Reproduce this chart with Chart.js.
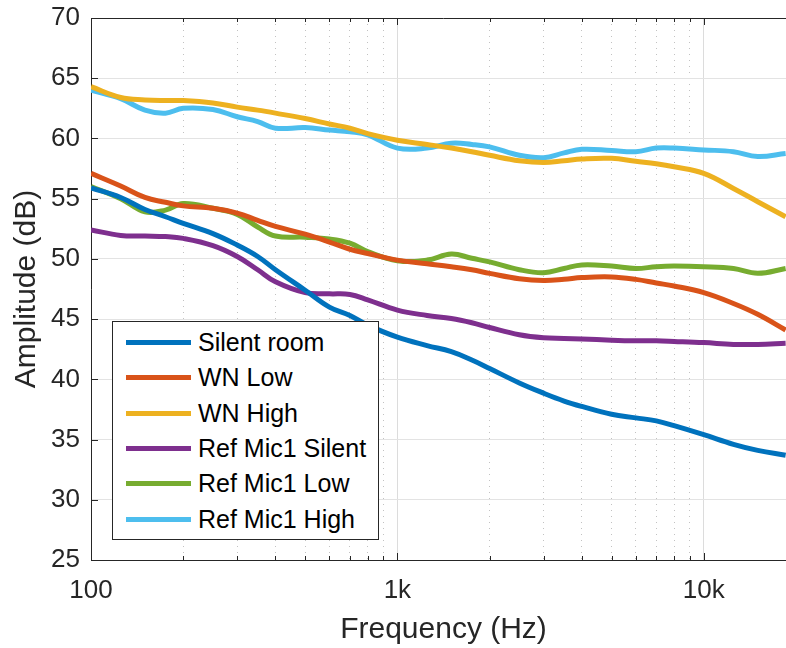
<!DOCTYPE html>
<html>
<head>
<meta charset="utf-8">
<script src="https://cdn.jsdelivr.net/npm/chart.js@4"></script>
<style>
  body { margin: 0; background: #fff; }
  #wrap { position: relative; width: 786px; height: 648px; overflow: hidden; }
  #legend {
    position: absolute; left: 112px; top: 321px; width: 267px; height: 219px;
    box-sizing: border-box; border: 1px solid #262626; background: #fff;
    font-family: "Liberation Sans", Arial, sans-serif; font-size: 25px; color: #000;
    padding-top: 3px;
  }
  .row { display: flex; align-items: center; height: 35.3px; }
  .swatch { width: 65px; height: 5px; margin-left: 13px; margin-right: 7px; }
</style>
</head>
<body>
<div id="wrap">
  <!-- the original axes run to 20 kHz, a little past the right edge of the picture -->
  <canvas id="myChart" width="796" height="648"></canvas>
  <div id="legend"></div>
</div>
<script>
const freqs = [100, 125, 150, 175, 200, 250, 300, 350, 400, 500, 600, 700, 800, 1000, 1250,
    1500, 1750, 2000, 2500, 3000, 3500, 4000, 5000, 6000, 7000, 8000, 10000, 12500, 15000, 18500];

// Amplitude (dB) per series
const silentRoom = [55.9, 55.1, 54.1, 53.5, 52.95, 52.1, 51.15, 50.2, 49.1, 47.4, 46.0, 45.3, 44.5, 43.5, 42.8,
    42.3, 41.6, 40.9, 39.7, 38.85, 38.2, 37.75, 37.1, 36.8, 36.55, 36.15, 35.4, 34.6, 34.1, 33.7];
const wnLow = [57.1, 56.05, 55.1, 54.7, 54.4, 54.2, 53.8, 53.2, 52.7, 52.05, 51.4, 50.8, 50.45, 49.9, 49.6,
    49.35, 49.1, 48.8, 48.35, 48.2, 48.3, 48.45, 48.5, 48.3, 48.0, 47.75, 47.2, 46.3, 45.4, 44.1];
const wnHigh = [64.3, 63.4, 63.2, 63.15, 63.15, 62.95, 62.6, 62.35, 62.1, 61.65, 61.2, 60.85, 60.4, 59.85, 59.5,
    59.2, 58.9, 58.6, 58.15, 58.0, 58.15, 58.3, 58.35, 58.1, 57.9, 57.65, 57.1, 55.85, 54.75, 53.5];
const refSilent = [52.4, 51.95, 51.9, 51.85, 51.7, 51.1, 50.2, 49.1, 48.1, 47.2, 47.1, 47.05, 46.6, 45.75, 45.3,
    45.05, 44.7, 44.3, 43.7, 43.45, 43.4, 43.35, 43.25, 43.2, 43.2, 43.15, 43.05, 42.9, 42.9, 43.0];
const refLow = [56.0, 55.0, 53.9, 54.05, 54.6, 54.2, 53.7, 52.65, 51.9, 51.8, 51.65, 51.3, 50.6, 49.85, 49.9,
    50.4, 50.05, 49.75, 49.1, 48.85, 49.2, 49.5, 49.4, 49.2, 49.35, 49.4, 49.35, 49.2, 48.8, 49.2];
const refHigh = [64.0, 63.3, 62.35, 62.1, 62.5, 62.4, 61.8, 61.4, 60.85, 60.9, 60.7, 60.55, 60.3, 59.2, 59.2,
    59.6, 59.5, 59.3, 58.6, 58.4, 58.8, 59.1, 59.0, 58.9, 59.2, 59.2, 59.05, 58.9, 58.5, 58.75];

const seriesNames = ["Silent room", "WN Low", "WN High", "Ref Mic1 Silent", "Ref Mic1 Low", "Ref Mic1 High"];
const seriesValues = [silentRoom, wnLow, wnHigh, refSilent, refLow, refHigh];
const seriesColors = ["#0072BD", "#D95319", "#EDB120", "#7E2F8E", "#77AC30", "#4DBEEE"];

// Axis ticks
const xTicks = [100, 200, 300, 400, 500, 600, 700, 800, 900, 1000, 2000, 3000, 4000, 5000,
    6000, 7000, 8000, 9000, 10000];
const xTickLabels = { 100: "100", 1000: "1k", 10000: "10k" };

const font = "'Liberation Sans', Arial, sans-serif";
const ink = "#262626";

const isDecade = (v) => v === 100 || v === 1000 || v === 10000;

// matlab style box: top edge plus inward tick marks
const axesBox = {
    id: "axesBox",
    afterDraw(chart) {
        const { ctx, chartArea: a, scales } = chart;
        ctx.save();
        ctx.strokeStyle = ink;
        ctx.lineWidth = 1;
        ctx.beginPath();
        ctx.moveTo(a.left, a.top + 0.5);
        ctx.lineTo(a.right, a.top + 0.5);
        scales.x.ticks.forEach((t) => {
            const px = Math.round(scales.x.getPixelForValue(t.value)) + 0.5;
            const len = isDecade(t.value) ? 7 : 4;
            ctx.moveTo(px, a.bottom);
            ctx.lineTo(px, a.bottom - len);
            ctx.moveTo(px, a.top);
            ctx.lineTo(px, a.top + len);
        });
        scales.y.ticks.forEach((t) => {
            const py = Math.round(scales.y.getPixelForValue(t.value)) + 0.5;
            ctx.moveTo(a.left, py);
            ctx.lineTo(a.left + 7, py);
        });
        ctx.stroke();
        ctx.restore();
    },
};

const datasets = seriesNames.map((name, i) => ({
    label: name,
    data: freqs.map((f, j) => ({ x: f, y: seriesValues[i][j] })),
    borderColor: seriesColors[i],
    backgroundColor: seriesColors[i],
    borderWidth: 5,
    pointRadius: 0,
    tension: 0.4,
    fill: false,
}));

new Chart(document.querySelector("#myChart"), {
    type: "line",
    data: { datasets },
    plugins: [axesBox],
    options: {
        responsive: false,
        animation: false,
        devicePixelRatio: 1,
        layout: { padding: { top: 18, right: 0, bottom: 0, left: 0 } },
        plugins: { legend: { display: false }, tooltip: { enabled: false } },
        scales: {
            x: {
                type: "logarithmic",
                min: 100,
                max: 20000,
                afterBuildTicks: (scale) => {
                    scale.ticks = xTicks.map((v) => ({ value: v }));
                },
                afterFit: (scale) => {
                    scale.height = 88;
                    scale.paddingLeft = 0;
                    scale.paddingRight = 0;
                },
                ticks: {
                    autoSkip: false,
                    maxRotation: 0,
                    padding: 15,
                    color: ink,
                    font: { family: font, size: 26 },
                    callback: (v) => xTickLabels[v] || "",
                },
                grid: {
                    drawTicks: false,
                    color: (ctx) => (ctx.tick && isDecade(ctx.tick.value) ? "#dcdcdc" : "#c2c2c2"),
                },
                border: {
                    color: ink,
                    dash: (ctx) => (ctx.tick && !isDecade(ctx.tick.value) ? [1, 5] : []),
                },
                title: {
                    display: true,
                    text: "Frequency (Hz)",
                    color: ink,
                    font: { family: font, size: 30 },
                    padding: { top: 0, bottom: 0 },
                },
            },
            y: {
                min: 25,
                max: 70,
                afterFit: (scale) => {
                    scale.width = 91;
                    // top label may stick out above the plot, as in the original
                    scale.paddingTop = 0;
                    scale.paddingBottom = 0;
                },
                ticks: {
                    stepSize: 5,
                    padding: 11,
                    color: ink,
                    font: { family: font, size: 26 },
                },
                grid: { drawTicks: false, color: "#e3e3e3" },
                border: { color: ink },
                title: {
                    display: true,
                    text: "Amplitude (dB)",
                    color: ink,
                    font: { family: font, size: 30 },
                    padding: { top: 9, bottom: 0 },
                },
            },
        },
    },
});

// Legend inside the plot, like the original
const legend = document.querySelector("#legend");
seriesNames.forEach((name, i) => {
    const row = document.createElement("div");
    row.className = "row";
    const sw = document.createElement("span");
    sw.className = "swatch";
    sw.style.background = seriesColors[i];
    const label = document.createElement("span");
    label.textContent = name;
    row.append(sw, label);
    legend.append(row);
});
</script>
</body>
</html>
